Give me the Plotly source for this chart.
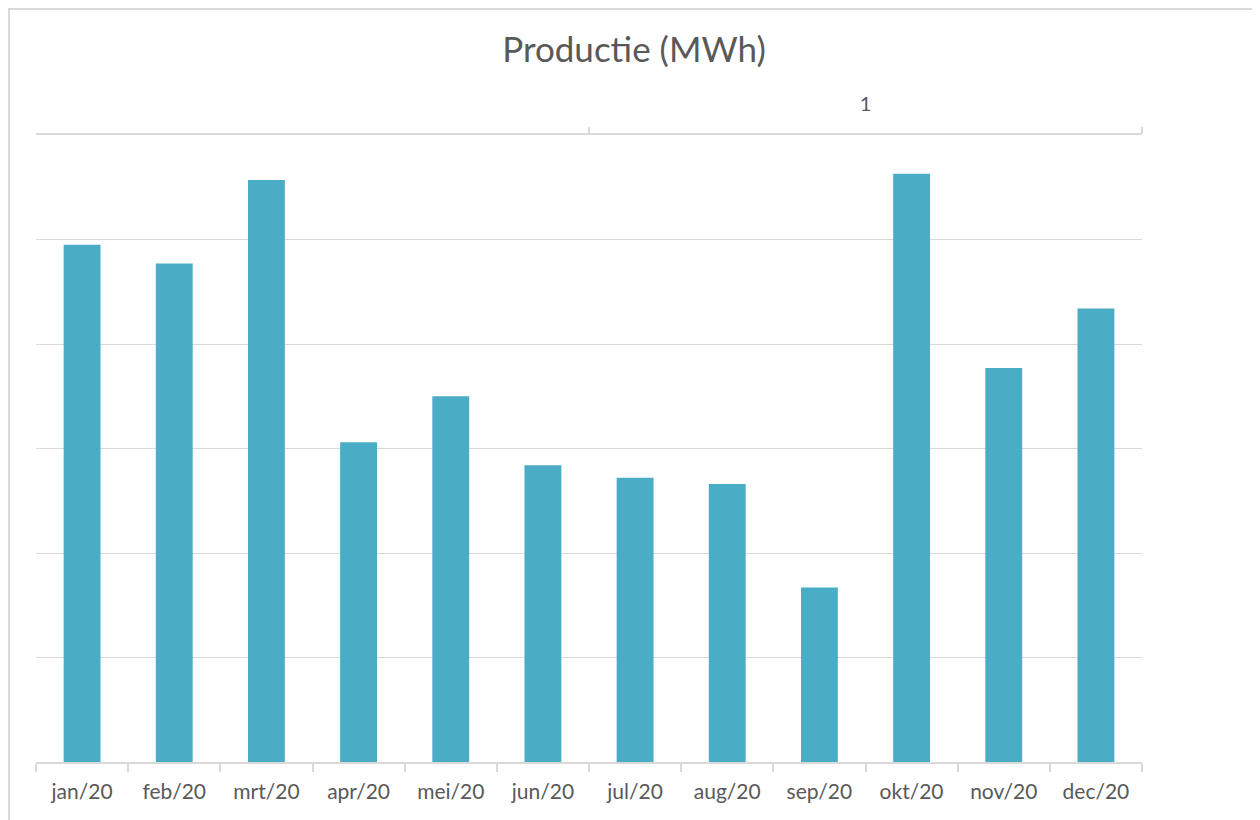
import plotly.graph_objects as go

months = ["jan/20", "feb/20", "mrt/20", "apr/20", "mei/20", "jun/20",
          "jul/20", "aug/20", "sep/20", "okt/20", "nov/20", "dec/20"]
production = [4.95, 4.77, 5.57, 3.06, 3.50, 2.84, 2.72, 2.66, 1.67, 5.63, 3.77, 4.34]
top_labels = ["", "1"]
top_label_pos = [0.5, 1.5]
top_boundaries = [1, 2]

grey = "#d9d9d9"
text_grey = "#595959"
font_family = "Lato, 'Open Sans', sans-serif"

fig = go.Figure()
fig.add_trace(go.Bar(x=months, y=production, marker=dict(color="#4BACC6", line=dict(width=0)),
                     width=0.4, showlegend=False, hoverinfo="x+y"))
fig.add_trace(go.Scatter(x=top_label_pos, y=[None, None], xaxis="x2", yaxis="y",
                         mode="markers", showlegend=False, hoverinfo="skip"))

fig.update_layout(
    width=1252, height=812,
    margin=dict(l=28, r=118, t=127, b=58),
    paper_bgcolor="white", plot_bgcolor="white",
    font=dict(family=font_family, color=text_grey, size=21),
    title=dict(text="Productie (MWh)", x=0.5, xanchor="center", y=0.948, yanchor="middle",
               font=dict(size=35, color=text_grey, family=font_family)),
    xaxis=dict(type="category", categoryorder="array", categoryarray=months,
               showline=True, linecolor=grey, linewidth=2,
               ticks="outside", tickson="boundaries", ticklen=8, tickcolor=grey, tickwidth=2,
               showgrid=False, tickfont=dict(size=21, color=text_grey), ticklabelstandoff=10),
    xaxis2=dict(range=[0, 2], overlaying="x", side="top", anchor="y",
                showline=True, linecolor=grey, linewidth=2,
                tickvals=top_label_pos, ticktext=top_labels, ticks="",
                minor=dict(tickvals=top_boundaries, ticks="outside", ticklen=6,
                           tickcolor=grey, tickwidth=2, showgrid=False),
                showgrid=False, zeroline=False, tickfont=dict(size=20, color=text_grey),
                ticklabelstandoff=14),
    yaxis=dict(range=[0, 6], dtick=1, showticklabels=False, showgrid=True,
               gridcolor=grey, gridwidth=1, zeroline=False, showline=False, ticks=""),
)

fig.add_shape(type="rect", xref="paper", yref="paper",
              x0=-0.0244, x1=1.1058, y0=-0.1, y1=1.2010,
              line=dict(color=grey, width=2), fillcolor="rgba(0,0,0,0)", layer="below")

fig.write_html("out.html")
